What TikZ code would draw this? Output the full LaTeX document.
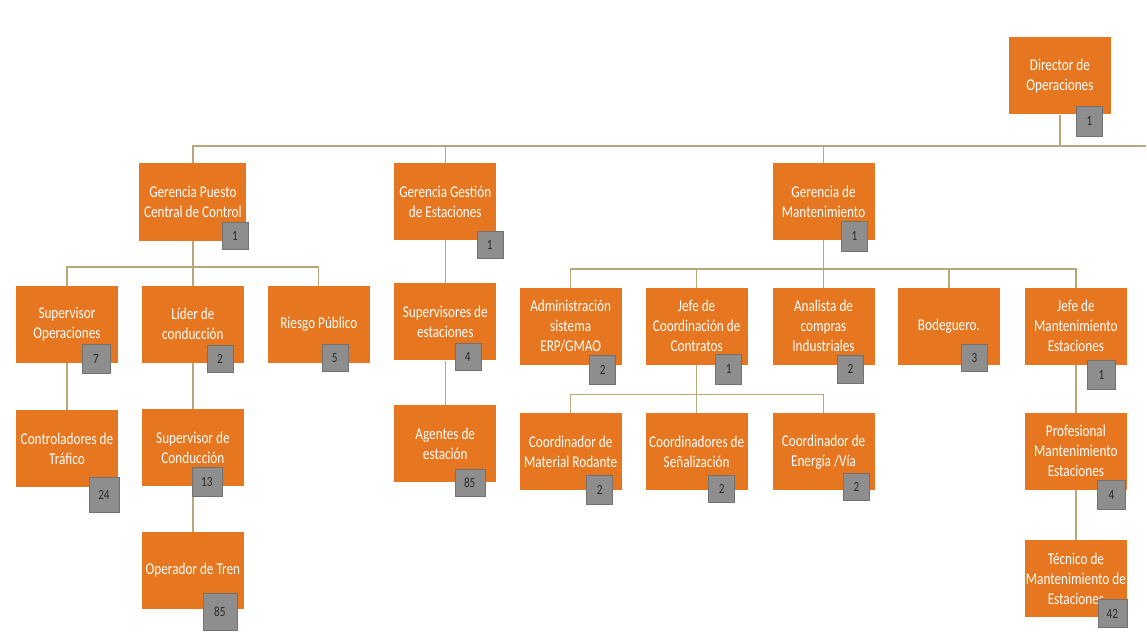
\documentclass[tikz,border=0pt]{standalone}
\usepackage{fontspec}
\setmainfont[FakeStretch=0.8]{Carlito}
\usetikzlibrary{calc}
\definecolor{boxorange}{HTML}{E6761F}
\definecolor{badgegray}{HTML}{8E8E8E}
\definecolor{badgetext}{HTML}{2A2A2A}
\definecolor{linecol}{HTML}{B9A67C}
\pgfdeclarelayer{paper}
\pgfdeclarelayer{background}
\pgfsetlayers{paper,background,main}
\tikzset{
  rolebox/.style={fill=boxorange, draw=none, text=white, align=center, inner sep=0pt,
    minimum width=102pt, minimum height=77pt,
    font=\fontsize{16.5}{20}\selectfont},
  badge/.style={fill=badgegray, draw=badgegray!80!black, line width=0.4pt, text=badgetext, inner sep=0pt,
    minimum width=26pt, minimum height=27pt, font=\fontsize{14}{16}\selectfont},
  conn/.style={draw=linecol, line width=1.3pt}
}
\begin{document}
\begin{tikzpicture}[x=1pt,y=-1pt]
\begin{pgfonlayer}{paper}
\useasboundingbox[fill=white] (0,0) rectangle (1147,637);
\end{pgfonlayer}

% ---- boxes ----
\node[rolebox] (dir) at (1060.5,76) {Director de\\Operaciones};
\node[rolebox, minimum width=107pt, minimum height=78pt] (gpc) at (193,202) {Gerencia Puesto\\Central de Control};
\node[rolebox] (gge) at (445.5,201.5) {Gerencia Gestión\\de Estaciones};
\node[rolebox] (gm) at (824,201.5) {Gerencia de\\Mantenimiento};

\node[rolebox] (supop) at (67,324.5) {Supervisor\\Operaciones};
\node[rolebox] (lider) at (193,324.5) {Líder de\\conducción};
\node[rolebox] (riesgo) at (319,324.5) {Riesgo Público};
\node[rolebox] (ctrl) at (67,449) {Controladores de\\Tráfico};
\node[rolebox] (supcond) at (193,448) {Supervisor de\\Conducción};
\node[rolebox] (optren) at (193,570.5) {Operador de Tren};

\node[rolebox] (supest) at (445.5,322) {Supervisores de\\estaciones};
\node[rolebox] (agentes) at (445.5,444) {Agentes de\\estación};

\node[rolebox] (adm) at (571,326.5) {Administración\\sistema\\ERP/GMAO};
\node[rolebox] (jcc) at (697,326.5) {Jefe de\\Coordinación de\\Contratos};
\node[rolebox] (analista) at (824,326.5) {Analista de\\compras\\Industriales};
\node[rolebox] (bodeg) at (949.5,326.5) {Bodeguero.};
\node[rolebox] (jme) at (1076.5,326.5) {Jefe de\\Mantenimiento\\Estaciones};

\node[rolebox] (cmr) at (571,452) {Coordinador de\\Material Rodante};
\node[rolebox] (cs) at (697,452) {Coordinadores de\\Señalización};
\node[rolebox] (ce) at (824,452) {Coordinador de\\Energía /Vía};

\node[rolebox] (prof) at (1076.5,451.5) {Profesional\\Mantenimiento\\Estaciones};
\node[rolebox] (tec) at (1076.5,579) {Técnico de\\Mantenimiento de\\Estaciones};

% ---- badges ----
\node[badge, minimum height=30pt] (bdir) at (1090,121) {1};
\node[badge] (bgpc) at (235,236) {1};
\node[badge] (bgge) at (490,245) {1};
\node[badge, minimum height=30pt] (bgm) at (855,236) {1};
\node[badge, minimum width=28pt, minimum height=29pt] (bsupop) at (96,359) {7};
\node[badge] (blider) at (220,359) {2};
\node[badge] (briesgo) at (335,358) {5};
\node[badge, minimum width=30pt, minimum height=35pt] (bctrl) at (104,495) {24};
\node[badge, minimum width=30pt, minimum height=29pt] (bsupcond) at (207,482) {13};
\node[badge, minimum width=34pt, minimum height=37pt] (boptren) at (220,612) {85};
\node[badge] (bsupest) at (468,357) {4};
\node[badge, minimum width=30pt] (bagentes) at (470,483) {85};
\node[badge, minimum height=29pt] (badm) at (603,370) {2};
\node[badge, minimum height=30pt] (bjcc) at (729,369) {1};
\node[badge, minimum height=28pt] (banalista) at (851,369) {2};
\node[badge] (bbodeg) at (975,358) {3};
\node[badge, minimum width=28pt, minimum height=29pt] (bjme) at (1102,375) {1};
\node[badge, minimum height=29pt] (bcmr) at (600,490) {2};
\node[badge] (bcs) at (722,489) {2};
\node[badge] (bce) at (857,487) {2};
\node[badge, minimum width=28pt, minimum height=29pt] (bprof) at (1112,495) {4};
\node[badge, minimum width=29pt, minimum height=28pt] (btec) at (1113,614) {42};

% ---- bus coordinates ----
\coordinate (busTop) at (1147,146);
\coordinate (busPC) at (0,267);
\coordinate (busM) at (0,269);
\coordinate (busJ) at (0,395);

% ---- connectors ----
\begin{pgfonlayer}{background}
\draw[conn] (gpc.north) |- (busTop);
\draw[conn] (dir.south) -- (dir.south |- busTop);
\draw[conn] (gge.north) -- (gge.north |- busTop);
\draw[conn] (gm.north) -- (gm.north |- busTop);

\draw[conn] (gpc.south) -- (gpc.south |- busPC);
\draw[conn] (supop.north) |- (riesgo.north |- busPC) -- (riesgo.north);
\draw[conn] (lider.north) -- (lider.north |- busPC);
\draw[conn] (supop.south) -- (ctrl.north);
\draw[conn] (lider.south) -- (supcond.north);
\draw[conn] (supcond.south) -- (optren.north);

\draw[conn] (gge.south) -- (supest.north);
\draw[conn] (supest.south) -- (agentes.north);

\draw[conn] (gm.south) -- (gm.south |- busM);
\draw[conn] (adm.north) |- (jme.north |- busM) -- (jme.north);
\draw[conn] (jcc.north) -- (jcc.north |- busM);
\draw[conn] (analista.north) -- (analista.north |- busM);
\draw[conn] (bodeg.north) -- (bodeg.north |- busM);

\draw[conn] (jcc.south) -- (jcc.south |- busJ);
\draw[conn] (cmr.north) |- (ce.north |- busJ) -- (ce.north);
\draw[conn] (cs.north) -- (cs.north |- busJ);

\draw[conn] (jme.south) -- (prof.north);
\draw[conn] (prof.south) -- (tec.north);
\end{pgfonlayer}
\end{tikzpicture}
\end{document}
